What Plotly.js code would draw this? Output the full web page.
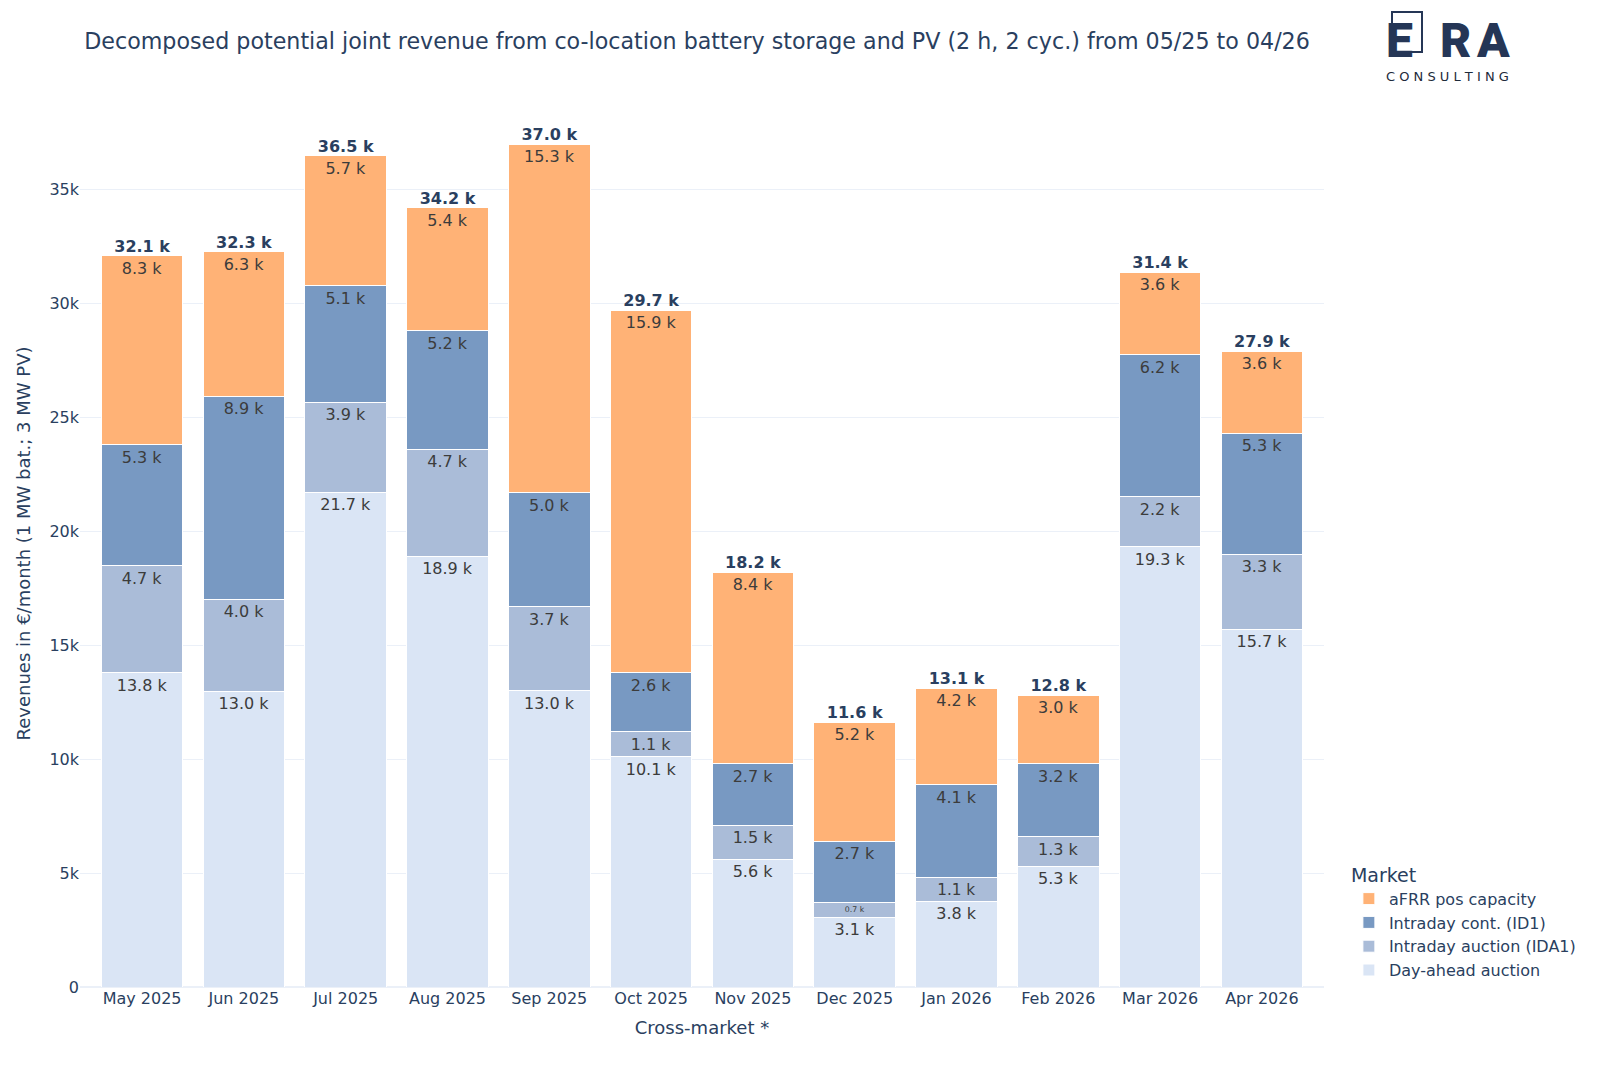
<!DOCTYPE html>
<html>
<head>
<meta charset="utf-8">
<script src="https://cdn.plot.ly/plotly-3.0.1.min.js"></script>
<style>
  html, body { margin: 0; padding: 0; background: #ffffff; }
  #chart { width: 1600px; height: 1067px; }
</style>
</head>
<body>
<div id="chart"></div>
<script>
// Months on the x axis
const months = ["May 2025", "Jun 2025", "Jul 2025", "Aug 2025", "Sep 2025", "Oct 2025",
                "Nov 2025", "Dec 2025", "Jan 2026", "Feb 2026", "Mar 2026", "Apr 2026"];

// Monthly revenue per market, EUR/month (1 MW battery; 3 MW PV)
const dayAhead   = [13800, 12980, 21720, 18900, 13000, 10100, 5600, 3060, 3760, 5300, 19320, 15700];
const intradayAuction = [4700, 4040, 3940, 4700, 3700, 1100, 1500, 670, 1060, 1300, 2190, 3300];
const intradayCont    = [5300, 8920, 5120, 5200, 5000, 2600, 2700, 2660, 4060, 3200, 6240, 5300];
const afrrPos    = [8300, 6340, 5720, 5400, 15300, 15900, 8400, 5230, 4240, 3000, 3620, 3600];

// Series names and colours
const seriesNames = ["Day-ahead auction", "Intraday auction (IDA1)", "Intraday cont. (ID1)", "aFRR pos capacity"];
const seriesColors = ["#dae5f5", "#aabcd8", "#7899c2", "#ffb276"];

const seriesValues = [dayAhead, intradayAuction, intradayCont, afrrPos];
const totals = months.map((_, i) => seriesValues.reduce((s, arr) => s + arr[i], 0));

const baseFont = "DejaVu Sans, Verdana, sans-serif";
const navy = "#2a3f5f";

const traces = seriesValues.map((vals, k) => ({
  type: "bar",
  name: seriesNames[k],
  x: months,
  y: vals,
  marker: { color: seriesColors[k], line: { color: "#ffffff", width: 1 } },
  text: vals.map(v => (v / 1000).toFixed(1) + " k"),
  texttemplate: "%{text}",
  textposition: "inside",
  insidetextanchor: "end",
  textangle: 0,
  textfont: { family: baseFont, size: 16, color: "#3c3c3c" },
  hovertemplate: "%{x}<br>%{y:,.0f} €<extra>" + seriesNames[k] + "</extra>"
}));

// Stack totals above each bar
traces.push({
  type: "scatter",
  mode: "text",
  x: months,
  y: totals,
  text: totals.map(v => "<b>" + (v / 1000).toFixed(1) + " k</b>"),
  textposition: "top center",
  textfont: { family: baseFont, size: 16, color: navy },
  showlegend: false,
  hoverinfo: "skip"
});

const logoColor = "#253656";
const logoFont = { family: "Roboto, DejaVu Sans, sans-serif", size: 48, weight: 900, color: logoColor };

const layout = {
  width: 1600,
  height: 1067,
  barmode: "stack",
  bargap: 0.2,
  paper_bgcolor: "#ffffff",
  plot_bgcolor: "#ffffff",
  font: { family: baseFont, size: 16, color: navy },
  margin: { l: 80, r: 276, t: 100, b: 80 },
  title: {
    text: "Decomposed potential joint revenue from co-location battery storage and PV (2 h, 2 cyc.) from 05/25 to 04/26",
    font: { family: baseFont, size: 22.2, color: navy },
    x: 0.496,
    xref: "paper",
    xanchor: "center",
    y: 0.961,
    yref: "container",
    yanchor: "middle"
  },
  xaxis: {
    type: "category",
    range: [-0.61, 11.61],
    title: { text: "Cross-market *", font: { size: 18, color: navy }, standoff: 14 },
    tickfont: { size: 16, color: navy },
    showgrid: false,
    showline: false,
    zeroline: false,
    ticks: ""
  },
  yaxis: {
    range: [0, 38937],
    tickvals: [0, 5000, 10000, 15000, 20000, 25000, 30000, 35000],
    ticktext: ["0", "5k", "10k", "15k", "20k", "25k", "30k", "35k"],
    title: { text: "Revenues in €/month (1 MW bat.; 3 MW PV)", font: { size: 18, color: navy }, standoff: 14 },
    tickfont: { size: 16, color: navy },
    gridcolor: "#ebf0f8",
    gridwidth: 1,
    zeroline: true,
    zerolinecolor: "#ebf0f8",
    zerolinewidth: 2,
    showline: false,
    ticks: "",
    ticklen: 5
  },
  legend: {
    title: { text: "Market", font: { size: 19, color: navy } },
    traceorder: "reversed",
    font: { size: 16, color: navy },
    x: 1.02,
    xanchor: "left",
    y: 0,
    yanchor: "bottom",
    bgcolor: "rgba(0,0,0,0)"
  },
  shapes: [
    {
      type: "rect", xref: "paper", yref: "paper",
      xsizemode: "pixel", ysizemode: "pixel",
      xanchor: 1.0, yanchor: 1.0,
      x0: 1392 - 1324, x1: 1422 - 1324,
      y0: 100 - 12, y1: 100 - 52,
      line: { color: logoColor, width: 2 },
      fillcolor: "rgba(0,0,0,0)"
    }
  ],
  annotations: [
    { text: "E", xref: "paper", yref: "paper", x: 1.0, y: 1.0, xshift: 1399 - 1324, yshift: 100 - 40,
      xanchor: "center", yanchor: "middle", showarrow: false, font: logoFont },
    { text: "R", xref: "paper", yref: "paper", x: 1.0, y: 1.0, xshift: 1455 - 1324, yshift: 100 - 40,
      xanchor: "center", yanchor: "middle", showarrow: false, font: logoFont },
    { text: "A", xref: "paper", yref: "paper", x: 1.0, y: 1.0, xshift: 1493 - 1324, yshift: 100 - 40,
      xanchor: "center", yanchor: "middle", showarrow: false, font: logoFont },
    { text: "C O N S U L T I N G", xref: "paper", yref: "paper", x: 1.0, y: 1.0, xshift: 1447 - 1324, yshift: 23.5,
      xanchor: "center", yanchor: "middle", showarrow: false,
      font: { family: "DejaVu Sans, sans-serif", size: 13, color: "#1e2a3a" } }
  ]
};

Plotly.newPlot("chart", traces, layout, { displayModeBar: false, responsive: false });
</script>
</body>
</html>
